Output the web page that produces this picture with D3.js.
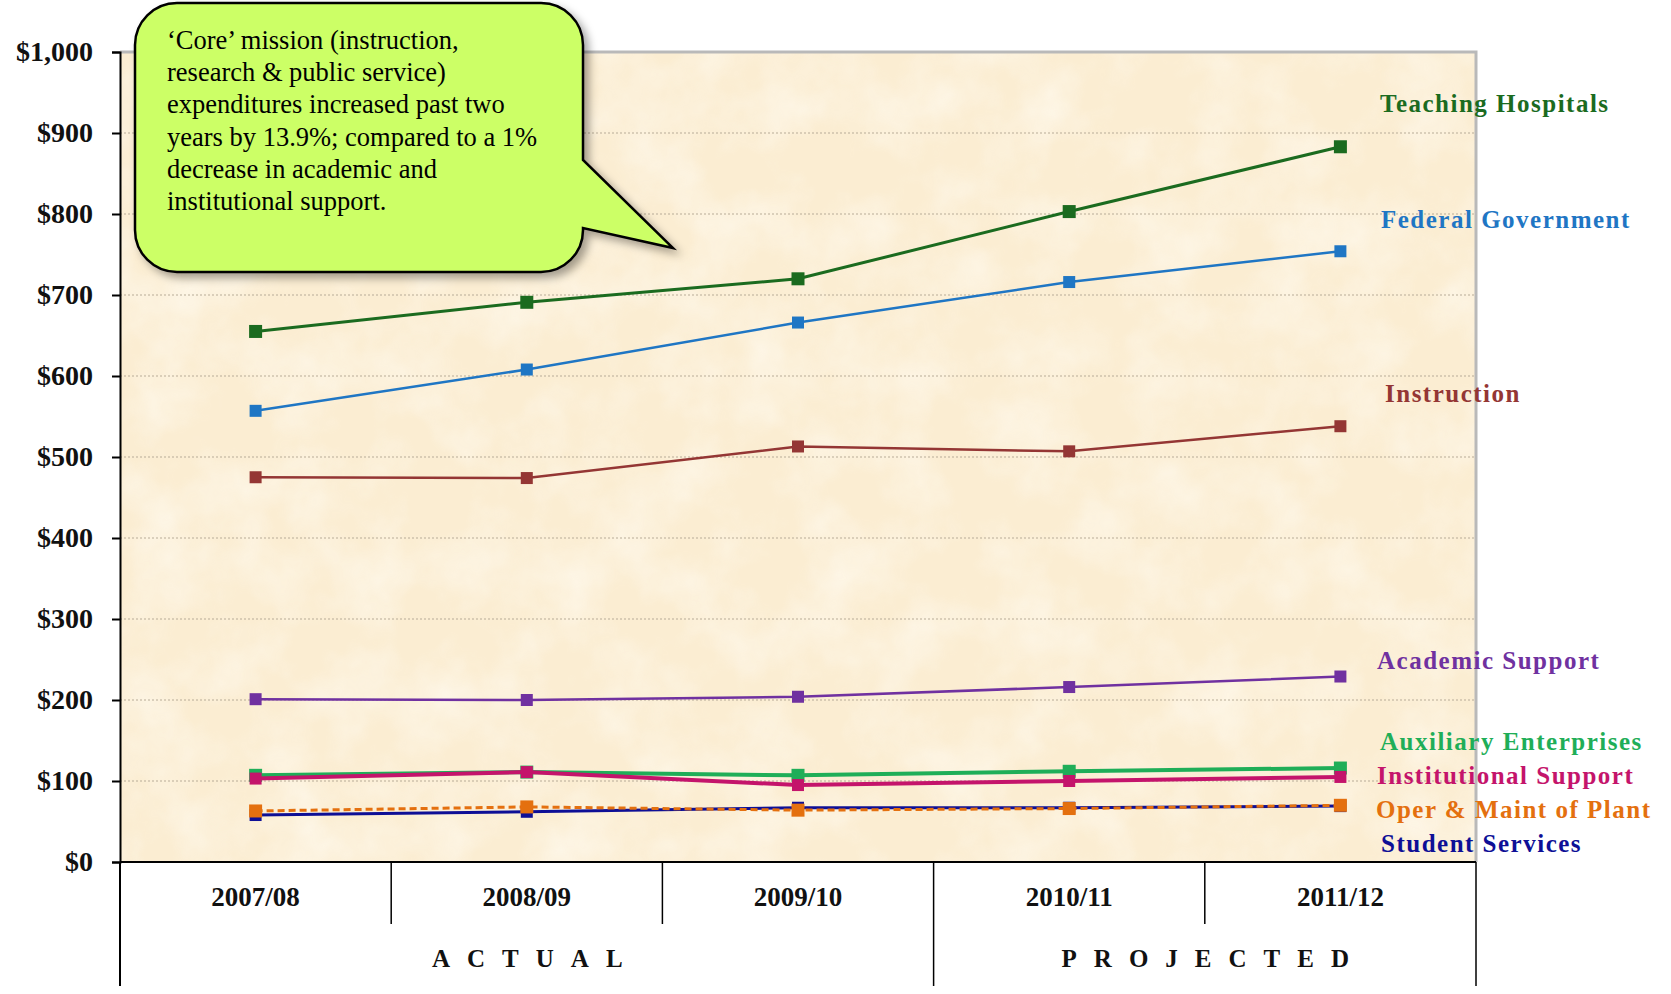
<!DOCTYPE html>
<html>
<head>
<meta charset="utf-8">
<script src="https://cdn.jsdelivr.net/npm/d3@7"></script>
<style>
body { margin: 0; background: #fff; }
svg { display: block; }
</style>
</head>
<body>
<svg id="chart" width="1671" height="994"></svg>
<script>
// fiscal years on the x axis
var years = ['2007/08', '2008/09', '2009/10', '2010/11', '2011/12']
var periods = ['ACTUAL', 'PROJECTED']
var periodSpans = [3, 2]
var yTicks = [0, 100, 200, 300, 400, 500, 600, 700, 800, 900, 1000]

// expenditures in $ millions
var teachingHospitals = [655, 691, 720, 803, 883]
var federalGovernment = [557, 608, 666, 716, 754]
var instruction = [475, 474, 513, 507, 538]
var academicSupport = [201, 200, 204, 216, 229]
var auxiliaryEnterprises = [107, 111, 107, 112, 116]
var institutionalSupport = [103, 111, 95, 100, 105]
var operMaint = [63, 68, 64, 66, 70]
var studentServices = [58, 62, 67, 67, 69]

var seriesNames = ['Teaching Hospitals', 'Federal Government', 'Instruction', 'Academic Support',
    'Auxiliary Enterprises', 'Institutional Support', 'Oper & Maint of Plant', 'Student Services']

var calloutLines = ['\u2018Core\u2019 mission (instruction,', 'research & public service)',
    'expenditures increased past two', 'years by 13.9%; compared to a 1%',
    'decrease in academic and', 'institutional support.']

var series = [
    { name: seriesNames[0], values: teachingHospitals, color: '#1b6b1f', width: 3, size: 13, labelAt: 933 },
    { name: seriesNames[1], values: federalGovernment, color: '#1f76c4', width: 2.5, size: 12, labelAt: 790 },
    { name: seriesNames[2], values: instruction, color: '#943634', width: 2.5, size: 12, labelAt: 575 },
    { name: seriesNames[3], values: academicSupport, color: '#7031a0', width: 2.5, size: 12, labelAt: 245 },
    { name: seriesNames[4], values: auxiliaryEnterprises, color: '#1fae58', width: 4, size: 13, labelAt: 145 },
    { name: seriesNames[5], values: institutionalSupport, color: '#c4146b', width: 4, size: 12, labelAt: 103 },
    { name: seriesNames[7], values: studentServices, color: '#0e0f96', width: 3, size: 12, labelAt: 19 },
    { name: seriesNames[6], values: operMaint, color: '#e4700f', width: 3, size: 13, labelAt: 62, dash: '7,4' }
]
var labelShift = [0, 1, 5, -3, 0, -3, 1, -4]

var plotLeft = 120, plotRight = 1476, plotTop = 52, plotBottom = 862
var tableBottom = 986
var serif = '"Liberation Serif", "Times New Roman", serif'

var svg = d3.select('#chart')
var defs = svg.append('defs')

var paper = defs.append('filter').attr('id', 'paper')
    .attr('x', 0).attr('y', 0).attr('width', 1).attr('height', 1)
paper.append('feTurbulence').attr('type', 'fractalNoise')
    .attr('baseFrequency', 0.015).attr('numOctaves', 4).attr('seed', 7).attr('result', 'noise')
paper.append('feColorMatrix').attr('in', 'noise').attr('type', 'matrix')
    .attr('values', '0 0 0 0 1  0 0 0 0 0.97  0 0 0 0 0.90  0 0 0 -1.6 1.0')

var shadow = defs.append('filter').attr('id', 'shadow')
    .attr('x', '-10%').attr('y', '-10%').attr('width', '130%').attr('height', '130%')
shadow.append('feDropShadow').attr('dx', 5).attr('dy', 5).attr('stdDeviation', 4)
    .attr('flood-color', '#000').attr('flood-opacity', 0.35)

var x = d3.scaleBand().domain(years).range([plotLeft, plotRight])
var y = d3.scaleLinear().domain([0, 1000]).range([plotBottom, plotTop])

// plot area
svg.append('rect').attr('x', plotLeft).attr('y', plotTop)
    .attr('width', plotRight - plotLeft).attr('height', plotBottom - plotTop)
    .attr('fill', '#fbedd2')
svg.append('rect').attr('x', plotLeft).attr('y', plotTop)
    .attr('width', plotRight - plotLeft).attr('height', plotBottom - plotTop)
    .attr('fill', '#fff').attr('filter', 'url(#paper)').attr('opacity', 0.7)

// gridlines
svg.append('g').selectAll('line')
    .data(yTicks.filter(function (d) { return d > 0 && d < 1000 }))
    .enter().append('line')
    .attr('x1', plotLeft).attr('x2', plotRight)
    .attr('y1', function (d) { return y(d) }).attr('y2', function (d) { return y(d) })
    .attr('stroke', '#b8ab98').attr('stroke-width', 1.2).attr('stroke-dasharray', '2,2')

// plot area border (top and right)
svg.append('path')
    .attr('d', 'M' + plotLeft + ',' + plotTop + 'H' + plotRight + 'V' + plotBottom)
    .attr('fill', 'none').attr('stroke', '#b9b9b9').attr('stroke-width', 3)

// y axis
var yAxis = d3.axisLeft(y).tickValues(yTicks).tickSize(8)
    .tickFormat(function (d) { return '$' + d3.format(',')(d) })
var yg = svg.append('g').attr('transform', 'translate(' + plotLeft + ',0)').call(yAxis)
yg.select('.domain').attr('stroke', '#000').attr('stroke-width', 2)
yg.selectAll('.tick line').attr('stroke', '#000').attr('stroke-width', 2)
yg.selectAll('.tick text')
    .attr('x', -27)
    .style('font-family', serif)
    .style('font-weight', 'bold').style('font-size', '28px').attr('fill', '#111')

// lines and markers
var line = d3.line()
    .x(function (d, i) { return x(years[i]) + x.bandwidth() / 2 })
    .y(function (d) { return y(d) })

var sg = svg.append('g').selectAll('g').data(series).enter().append('g')
sg.append('path')
    .attr('d', function (s) { return line(s.values) })
    .attr('fill', 'none')
    .attr('stroke', function (s) { return s.color })
    .attr('stroke-width', function (s) { return s.width })
    .attr('stroke-dasharray', function (s) { return s.dash || null })
sg.selectAll('rect')
    .data(function (s) { return s.values.map(function (v, i) { return { v: v, i: i, s: s } }) })
    .enter().append('rect')
    .attr('x', function (d) { return x(years[d.i]) + x.bandwidth() / 2 - d.s.size / 2 })
    .attr('y', function (d) { return y(d.v) - d.s.size / 2 })
    .attr('width', function (d) { return d.s.size })
    .attr('height', function (d) { return d.s.size })
    .attr('fill', function (d) { return d.s.color })

// series labels at the right
svg.append('g').selectAll('text').data(series).enter().append('text')
    .attr('x', function (s, i) { return plotRight - 96 + labelShift[i] })
    .attr('y', function (s) { return y(s.labelAt) })
    .attr('dominant-baseline', 'middle')
    .attr('fill', function (s) { return s.color })
    .style('font-family', serif)
    .style('font-weight', 'bold').style('font-size', '25px').style('letter-spacing', '1.5px')
    .text(function (s) { return s.name })

// category table under the plot
var tg = svg.append('g')
var rowMid = plotBottom + 62
tg.selectAll('line.cat').data(years.slice(1)).enter().append('line')
    .attr('x1', function (d) { return x(d) }).attr('x2', function (d) { return x(d) })
    .attr('y1', plotBottom)
    .attr('y2', function (d, i) { return i === periodSpans[0] - 1 ? tableBottom : rowMid })
    .attr('stroke', '#000').attr('stroke-width', 1.5)
tg.append('line').attr('x1', plotLeft).attr('x2', plotLeft)
    .attr('y1', plotBottom).attr('y2', tableBottom)
    .attr('stroke', '#000').attr('stroke-width', 2)
tg.append('line').attr('x1', plotRight).attr('x2', plotRight)
    .attr('y1', plotBottom).attr('y2', tableBottom)
    .attr('stroke', '#000').attr('stroke-width', 1.5)
tg.append('line').attr('x1', plotLeft).attr('x2', plotRight)
    .attr('y1', plotBottom).attr('y2', plotBottom)
    .attr('stroke', '#000').attr('stroke-width', 2)
tg.append('line').attr('x1', plotLeft - 1).attr('x2', plotRight + 1)
    .attr('y1', tableBottom).attr('y2', tableBottom)
    .attr('stroke', '#000').attr('stroke-width', 3.5).attr('filter', 'url(#shadow)')

tg.selectAll('text.year').data(years).enter().append('text')
    .attr('x', function (d) { return x(d) + x.bandwidth() / 2 })
    .attr('y', plotBottom + 38)
    .attr('text-anchor', 'middle').attr('dominant-baseline', 'middle')
    .style('font-family', serif)
    .style('font-weight', 'bold').style('font-size', '27px').attr('fill', '#111')
    .text(function (d) { return d })

var start = 0
periods.forEach(function (p, k) {
    var x0 = x(years[start])
    var x1 = x(years[start + periodSpans[k] - 1]) + x.bandwidth()
    start += periodSpans[k]
    tg.append('text')
        .attr('x', (x0 + x1) / 2 + 9)
        .attr('y', plotBottom + 99)
        .attr('text-anchor', 'middle').attr('dominant-baseline', 'middle')
        .style('font-family', serif)
        .style('font-weight', 'bold').style('font-size', '25px').style('letter-spacing', '17px')
        .attr('fill', '#111')
        .text(p)
})

// callout bubble
var bx0 = 135, bx1 = 583, by0 = 3, by1 = 272, r = 42
var tail = [[bx1, 160], [673, 248], [bx1, 228]]
var bubble = d3.path()
bubble.moveTo(bx0 + r, by0)
bubble.lineTo(bx1 - r, by0)
bubble.arcTo(bx1, by0, bx1, by0 + r, r)
bubble.lineTo(tail[0][0], tail[0][1])
bubble.lineTo(tail[1][0], tail[1][1])
bubble.lineTo(tail[2][0], tail[2][1])
bubble.lineTo(bx1, by1 - r)
bubble.arcTo(bx1, by1, bx1 - r, by1, r)
bubble.lineTo(bx0 + r, by1)
bubble.arcTo(bx0, by1, bx0, by1 - r, r)
bubble.lineTo(bx0, by0 + r)
bubble.arcTo(bx0, by0, bx0 + r, by0, r)
bubble.closePath()
svg.append('path').attr('d', bubble.toString())
    .attr('fill', '#ccff66').attr('stroke', '#000').attr('stroke-width', 2.5)
    .attr('filter', 'url(#shadow)')

svg.append('g').selectAll('text').data(calloutLines).enter().append('text')
    .attr('x', 167)
    .attr('y', function (d, i) { return 49 + i * 32.2 })
    .style('font-family', serif)
    .style('font-size', '26.5px').attr('fill', '#000')
    .text(function (d) { return d })
</script>
</body>
</html>
